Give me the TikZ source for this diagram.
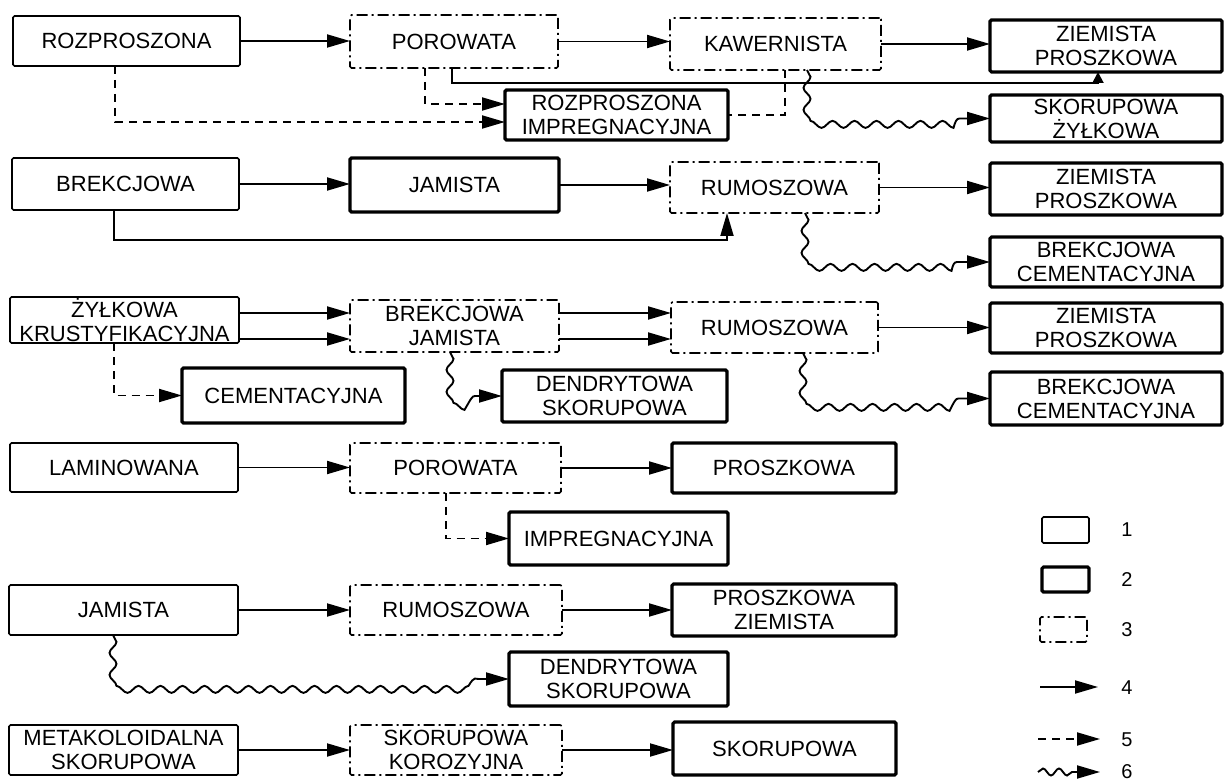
\documentclass[tikz,border=0pt]{standalone}
\usepackage{fontspec}
\setmainfont{Liberation Sans}
\usetikzlibrary{arrows.meta,decorations.pathmorphing,calc}
\newcommand\boxfont{\fontsize{22}{24}\selectfont}
\newcommand\numfont{\fontsize{20}{22}\selectfont}
\begin{document}
\begin{tikzpicture}[x=1pt,y=-1pt,
  box/.style={rectangle, inner sep=0pt, outer sep=0pt, align=center, font=\boxfont, rounded corners=1.5pt},
  sz/.style 2 args={minimum width=#1pt, minimum height=#2pt},
  b1/.style={box, draw, line width=1.6pt},
  b2/.style={box, draw, line width=3.2pt},
  b3/.style={box, draw, line width=1.6pt, dash pattern=on 11pt off 4pt on 2pt off 4pt},
  arr/.style={line width=1.9pt, -{Triangle[length=23pt,width=13pt]}},
  dsh/.style={arr, dash pattern=on 8pt off 6pt},
  dshline/.style={line width=1.9pt, dash pattern=on 8pt off 6pt},
  wav/.style={arr, decorate, decoration={snake, amplitude=3.5pt, segment length=22pt, post length=27pt}},
  num/.style={font=\numfont, inner sep=0pt}
]
\fill[white] (0,0) rectangle (1225,783);
\useasboundingbox (0,0) rectangle (1225,783);

% Row 1
\node[b1, sz={227}{50}] (roz) at (126.5,41) {ROZPROSZONA};
\node[b3, sz={208}{53}] (por1) at (454,41.5) {POROWATA};
\node[b3, sz={211}{52}] (kaw) at (775.5,44) {KAWERNISTA};
\node[b2, sz={232}{52}] (zie1) at (1106,46) {ZIEMISTA\\PROSZKOWA};
\node[b2, sz={223}{50}] (rimp) at (616.5,115) {ROZPROSZONA\\IMPREGNACYJNA};
\node[b2, sz={232}{47}] (szyl) at (1106,118.5) {SKORUPOWA\\ŻYŁKOWA};

% Row 2
\node[b1, sz={227}{52}] (brek) at (125.5,184) {BREKCJOWA};
\node[b2, sz={209}{54}] (jam2) at (454.5,185) {JAMISTA};
\node[b3, sz={209}{51}] (rum2) at (774.5,187.5) {RUMOSZOWA};
\node[b2, sz={232}{52}] (zie2) at (1106,189) {ZIEMISTA\\PROSZKOWA};
\node[b2, sz={232}{50}] (bcem2) at (1106,262) {BREKCJOWA\\CEMENTACYJNA};

% Row 3
\node[b1, sz={229}{46}] (zyl) at (124.5,320) {ŻYŁKOWA\\KRUSTYFIKACYJNA};
\node[b3, sz={209}{52}] (bj) at (454.5,326) {BREKCJOWA\\JAMISTA};
\node[b3, sz={207}{51}] (rum3) at (774.5,327.5) {RUMOSZOWA};
\node[b2, sz={232}{50}] (zie3) at (1106,328) {ZIEMISTA\\PROSZKOWA};
\node[b2, sz={232}{53}] (bcem3) at (1106,398.5) {BREKCJOWA\\CEMENTACYJNA};
\node[b2, sz={223}{55}] (cem) at (293.5,395.5) {CEMENTACYJNA};
\node[b2, sz={225}{52}] (den3) at (614.5,396) {DENDRYTOWA\\SKORUPOWA};

% Row 4
\node[b1, sz={228}{49}] (lam) at (124,467.5) {LAMINOWANA};
\node[b3, sz={211}{50}] (por4) at (455.5,468) {POROWATA};
\node[b2, sz={224}{50}] (prosz4) at (784,468) {PROSZKOWA};
\node[b2, sz={219}{53}] (imp4) at (618.5,538.5) {IMPREGNACYJNA};

% Row 5
\node[b1, sz={229}{50}] (jam5) at (123.5,610) {JAMISTA};
\node[b3, sz={212}{50}] (rum5) at (456,610) {RUMOSZOWA};
\node[b2, sz={224}{52}] (pz5) at (784,610) {PROSZKOWA\\ZIEMISTA};
\node[b2, sz={219}{54}] (den5) at (618.5,679) {DENDRYTOWA\\SKORUPOWA};

% Row 6
\node[b1, sz={229}{50}] (meta) at (123.5,750) {METAKOLOIDALNA\\SKORUPOWA};
\node[b3, sz={212}{50}] (skk) at (456,750) {SKORUPOWA\\KOROZYJNA};
\node[b2, sz={223}{53}] (sk6) at (784.5,748.5) {SKORUPOWA};

% Connectors row 1
\draw[arr] (roz.east) -- (roz.east -| por1.west);
\draw[arr] (por1.east) -- (por1.east -| kaw.west);
\draw[arr] (kaw.east) -- (kaw.east -| zie1.west);
\draw[arr, -{Triangle[length=11pt,width=11pt]}] ([xshift=-2pt]por1.south) -- ++(0,15) -| ([xshift=-8pt]zie1.south);
\draw[dsh] ([xshift=-29pt]por1.south) |- ([yshift=11pt]rimp.west);
\draw[dsh] ([xshift=-11.5pt]roz.south) |- ([yshift=-7pt]rimp.west);
\draw[dshline] ([xshift=9.5pt]kaw.south) |- (rimp.east);
\draw[wav] ([xshift=31.5pt]kaw.south) |- (szyl.west);

% Connectors row 2
\draw[arr] (brek.east) -- (brek.east -| jam2.west);
\draw[arr] (jam2.east) -- (jam2.east -| rum2.west);
\draw[arr] (rum2.east) -- (rum2.east -| zie2.west);
\draw[arr] ([xshift=-11.5pt]brek.south) -- ++(0,30) -| ([xshift=-47.5pt]rum2.south);
\draw[wav] ([xshift=30.5pt]rum2.south) |- (bcem2.west);

% Connectors row 3
\coordinate (bjin1) at ([yshift=13pt]bj.west);
\coordinate (bjin2) at ([yshift=-13pt]bj.west);
\coordinate (bjout1) at ([yshift=13pt]bj.east);
\coordinate (bjout2) at ([yshift=-13pt]bj.east);
\draw[arr] (zyl.east |- bjin1) -- (bjin1);
\draw[arr] (zyl.east |- bjin2) -- (bjin2);
\draw[arr] (bjout1) -- (bjout1 -| rum3.west);
\draw[arr] (bjout2) -- (bjout2 -| rum3.west);
\draw[arr] (rum3.east) -- (rum3.east -| zie3.west);
\draw[dsh] ([xshift=-10.5pt]zyl.south) |- (cem.west);
\draw[wav] ([xshift=-4.5pt]bj.south) |- (den3.west);
\draw[wav] ([xshift=28.5pt]rum3.south) |- (bcem3.west);

% Connectors row 4
\draw[arr] (lam.east) -- (lam.east -| por4.west);
\draw[arr] (por4.east) -- (por4.east -| prosz4.west);
\draw[dsh] ([xshift=-9.5pt]por4.south) |- (imp4.west);

% Connectors row 5
\draw[arr] (jam5.east) -- (jam5.east -| rum5.west);
\draw[arr] (rum5.east) -- (rum5.east -| pz5.west);
\draw[wav] ([xshift=-10.5pt]jam5.south) |- (den5.west);

% Connectors row 6
\draw[arr] (meta.east) -- (meta.east -| skk.west);
\draw[arr] (skk.east) -- (skk.east -| sk6.west);

% Legend
\node[b1, sz={47}{26}] (lg1) at (1065.5,530) {};
\node[b2, sz={47}{25}] (lg2) at (1065.5,579.5) {};
\node[b3, sz={47}{25}] (lg3) at (1063.5,629.5) {};
\node[num] (n1) at (1127,530) {1};
\node[num] (n2) at (1127,580) {2};
\node[num] (n3) at (1127,630) {3};
\node[num] (n4) at (1127,688) {4};
\node[num] (n5) at (1127,740) {5};
\node[num] (n6) at (1127,772) {6};
\coordinate (l4a) at (1040,687);
\coordinate (l4b) at (1098,687);
\coordinate (l5a) at (1038,739);
\coordinate (l5b) at (1100,739);
\coordinate (l6a) at (1038,772);
\coordinate (l6b) at (1100,772);
\draw[arr] (l4a) -- (l4b);
\draw[dsh] (l5a) -- (l5b);
\draw[wav, decoration={snake, amplitude=3.5pt, segment length=16pt, post length=25pt}] (l6a) -- (l6b);
\end{tikzpicture}
\end{document}
